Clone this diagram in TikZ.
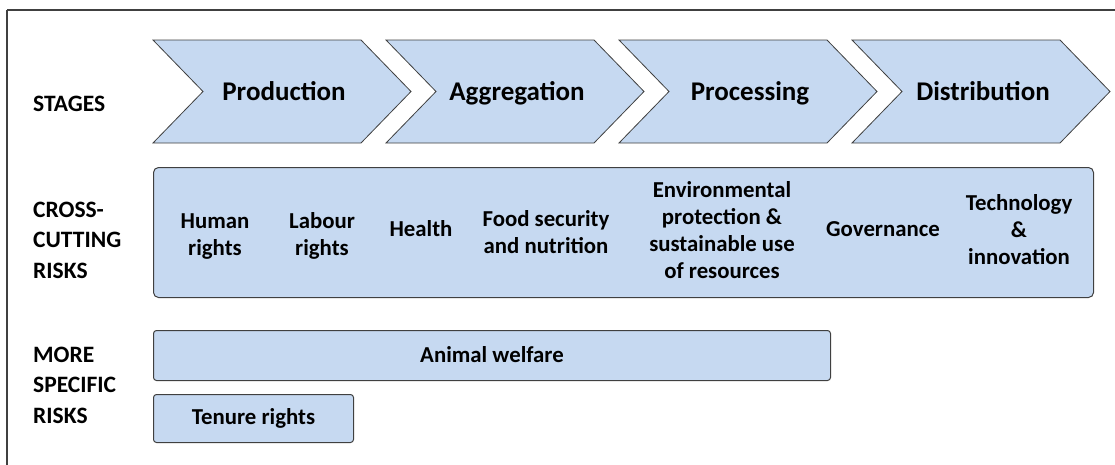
\documentclass[tikz,border=0pt]{standalone}
\usepackage{fontspec}
\setmainfont{Carlito}
\definecolor{boxfill}{HTML}{C6D9F1}
\definecolor{boxline}{HTML}{404040}
\begin{document}
\begin{tikzpicture}[x=1pt,y=-1pt,
  txt/.style={font=\fontsize{22.8}{27}\selectfont\bfseries, align=center, text=black, inner sep=0pt},
  bigtxt/.style={font=\fontsize{27}{30}\selectfont\bfseries, text=black, inner sep=0pt, anchor=base},
  lbl/.style={font=\fontsize{23.5}{30.5}\selectfont\bfseries, align=left, anchor=west, text=black, inner sep=0pt},
  chev/.style={fill=boxfill, draw=boxline, line width=0.8pt, line join=miter},
  rbox/.style={fill=boxfill, draw=boxline, line width=1pt, rounded corners=5pt}]
\useasboundingbox (0,0) rectangle (1115,464);
\draw[line width=1.5pt, draw=black!75] (7,10) -- (1125,10);
\draw[line width=1.5pt, draw=black!75] (7,10) -- (7,475);
% chevrons
\foreach \i/\name/\t in {0/prod/Production,1/aggr/Aggregation,2/proc/Processing,3/dist/Distribution}{
  \pgfmathsetmacro{\L}{153+233*\i}
  \draw[chev] (\L,40) -- (\L+208,40) -- (\L+258,91.5) -- (\L+208,143) -- (\L,143) -- (\L+50,91.5) -- cycle;
  \node[bigtxt] (\name) at (\L+131,100) {\t};
}
% labels
\node[lbl] (stages) at (33,104) {STAGES};
\node[lbl] (cross) at (33,240) {CROSS-\\CUTTING\\RISKS};
\node[lbl] (more) at (33,385) {MORE\\SPECIFIC\\RISKS};
% cross-cutting box
\node[rbox, minimum width=940pt, minimum height=130pt, anchor=north west] (ccbox) at (153,167) {};
\node[txt] (human) at (215,237) {Human\\rights};
\node[txt] (labour) at (322,236) {Labour\\rights};
\node[txt] (health) at (421,229) {Health};
\node[txt] (food) at (546,232) {Food security\\and nutrition};
\node[txt] (env) at (722,230) {Environmental\\protection \&\\sustainable use\\of resources};
\node[txt] (gov) at (883,229) {Governance};
\node[txt] (tech) at (1019,230) {Technology\\\&\\innovation};
% specific risks
\node[rbox, rounded corners=3pt, minimum width=677pt, minimum height=50pt, anchor=north west] (animalbox) at (153,330) {};
\node[txt] (animal) at ([yshift=1pt]animalbox.center) {Animal welfare};
\node[rbox, rounded corners=3pt, minimum width=200pt, minimum height=48pt, anchor=north west] (tenurebox) at (153,394) {};
\node[txt] (tenure) at (tenurebox.center) {Tenure rights};
\end{tikzpicture}
\end{document}
